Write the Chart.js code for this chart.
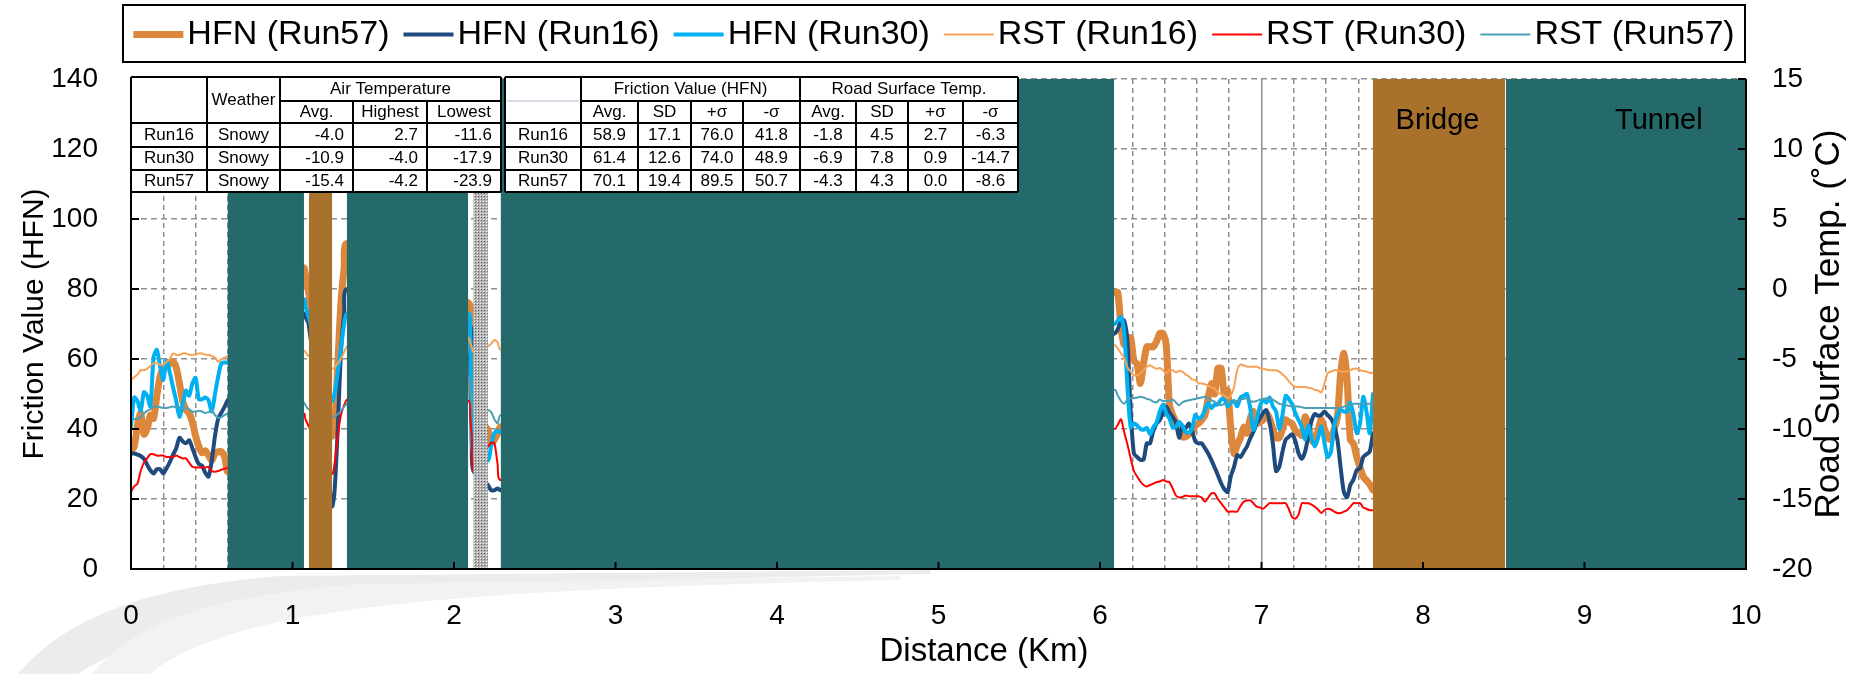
<!DOCTYPE html>
<html>
<head>
<meta charset="utf-8">
<script src="https://cdn.jsdelivr.net/npm/chart.js@4"></script>
<style>
  html, body { margin: 0; padding: 0; background: #fff; }
</style>
</head>
<body>
<canvas id="frictionChart" width="1861" height="674"></canvas>
<script>
// distance along the route (km), only where the road is open
const distKm = [
  0, 0.02, 0.04, 0.06, 0.08, 0.1, 0.12, 0.14, 0.16, 0.18, 0.2, 0.22, 0.24, 0.26, 0.28, 0.3,
  0.32, 0.34, 0.36, 0.38, 0.4, 0.42, 0.44, 0.46, 0.48, 0.5, 0.52, 0.54, 0.56, 0.58, 0.6,
  1.07, 1.08, 1.1, 1.245, 1.26, 1.28, 1.3, 1.32, 1.34,
  2.09, 2.1, 2.11, 2.12, 2.21, 2.23, 2.25, 2.27, 2.29,
  6.09, 6.11, 6.13, 6.15, 6.17, 6.19, 6.21, 6.23, 6.25, 6.27,
  6.29, 6.31, 6.33, 6.35, 6.37, 6.39, 6.41, 6.43, 6.45, 6.47,
  6.49, 6.51, 6.53, 6.55, 6.57, 6.59, 6.61, 6.63, 6.65, 6.67,
  6.69, 6.71, 6.73, 6.75, 6.77, 6.79, 6.81, 6.83, 6.85, 6.87,
  6.89, 6.91, 6.93, 6.95, 6.97, 6.99, 7.01, 7.03, 7.05, 7.07,
  7.09, 7.11, 7.13, 7.15, 7.17, 7.19, 7.21, 7.23, 7.25, 7.27,
  7.29, 7.31, 7.33, 7.35, 7.37, 7.39, 7.41, 7.43, 7.45, 7.47,
  7.49, 7.51, 7.53, 7.55, 7.57, 7.59, 7.61, 7.63, 7.65, 7.67, 7.69
];

// friction (HFN)
const hfnRun57 = [
  34, 35, 41, 44.5, 38.5, 40, 44, 43, 49.5, 55, 57.3, 57.8, 58.7, 59.3, 57.5, 53,
  48, 45.5, 44.5, 42, 38, 35, 33.2, 33.8, 32.5, 31, 33, 33.5, 33.5, 32, 28,
  86, 84, 79, 38, 40, 58, 76, 86, 93,
  76, 68, 55, 45, 39.7, 36, 37, 38.8, 40.7,
  79, 79, 69, 64, 66, 66, 59.5, 58.5, 53, 58.8,
  63.5, 63.5, 63.5, 65, 67.3, 67.3, 64, 47, 44, 42,
  40, 37.8, 37.8, 38.5, 39.2, 41, 41.6, 42.6, 44, 49,
  53, 50, 57.3, 57.3, 50, 51, 40, 33, 35.5, 37.5,
  40.5, 38.8, 43, 45, 41.6, 42, 42.6, 44.5, 43, 40,
  37.5, 37.5, 40, 42.6, 42, 41.5, 39.5, 38.8, 38.2, 43.5,
  41, 37, 36, 39.5, 42.6, 40, 37.8, 37, 40, 43.5,
  55.9, 61.6, 54, 36.9, 35.8, 32, 29, 26.4, 25.3, 24.2, 22.6
];
const hfnRun16 = [
  33, 33, 32.7, 32.3, 31.5, 29.8, 28.2, 27.3, 28.5, 28.5, 27.3, 28.8, 30.5, 32.6, 34.5, 37.5,
  36.5, 35.9, 36.8, 34.5, 32, 30, 29.5, 27.5, 26.4, 31, 38, 43, 44.7, 46.4, 48.3,
  73, 72, 70, 18, 22, 40, 62, 73, 80,
  70, 60, 35, 28, 24, 22.5, 22.5, 23, 22.5,
  67.3, 68.5, 70.8, 71, 65, 45, 33, 32, 31.2, 31.3,
  35.9, 35.9, 39.5, 41.5, 42.6, 44.5, 46.4, 44.7, 43.5, 41.8,
  37.5, 40.7, 40.2, 41.6, 39.5, 36.5, 35.9, 35.9, 34.5, 33,
  31.1, 29, 26.8, 24.5, 22.8, 22, 26.5, 29.2, 32.5, 32,
  33.5, 35, 37.3, 39.2, 41.6, 43, 44.6, 45.4, 42, 36,
  28, 29.2, 33.5, 37, 37.8, 38.5, 36.5, 33, 31.5, 33.5,
  38, 42.3, 44.3, 43.8, 44, 45, 44, 43, 41, 37,
  29, 22, 20.5, 24, 25.6, 28.3, 28.8, 32, 32.8, 33.5, 38.8
];
const hfnRun30 = [
  40.7, 49, 48, 45.2, 50.5, 49.5, 46.5, 60.5, 62.6, 58, 54, 59.5, 56.2, 52, 48, 43.5,
  47, 51, 49.5, 53, 54.6, 48.5, 48.5, 49, 48.2, 45, 50, 55, 58.8, 59, 59,
  77, 75, 72, 48, 50, 56, 63, 70, 73,
  73, 70, 40, 33, 31, 35.5, 38.8, 39.5, 39,
  70, 71, 72, 67.5, 52, 40.5, 41.6, 41, 40, 39.8,
  40.3, 38.5, 40.5, 41.8, 45, 47, 44.5, 43, 40.5, 40.6,
  42, 41, 39.2, 39, 40, 44, 43, 43.5, 45.5, 47.5,
  46, 47, 47, 48.5, 48.5, 46.5, 47.5, 48, 46.5, 49,
  49.5, 50, 46, 39.8, 42.5, 46.5, 48.3, 47.5, 49, 46.5,
  45, 40, 44, 49.5, 48.5, 47, 44.5, 42.5, 40.5, 37,
  41, 37.5, 35, 37.5, 40.7, 36, 32, 33.5, 41, 44,
  45.4, 45, 45, 47.5, 44, 38.8, 41.5, 49.2, 45, 38.8, 50
];

// road surface temperature (deg C)
const rstRun16 = [
  -6.5, -6.3, -6.1, -5.8, -5.8, -5.7, -5.5, -5.3, -5.3, -5.4, -5.4, -5.2, -5.0, -4.6, -4.7, -4.7,
  -4.6, -4.6, -4.7, -4.7, -4.7, -4.6, -4.6, -4.7, -4.7, -4.8, -4.9, -5.2, -5.0, -4.9, -4.8,
  -4.4, -4.5, -4.8, -5.7, -5.6, -5.3, -5.0, -4.5, -4.1,
  -3.5, -3.8, -4.2, -4.5, -4.1, -3.9, -3.65, -3.8, -4.35,
  -4.0, -4.25, -4.6, -4.9, -5.6, -5.9, -6.15, -6.15, -6.05, -5.8,
  -5.55, -5.45, -5.6, -5.7, -5.65, -5.8, -6.0, -5.8, -5.8, -5.95,
  -5.85, -5.9, -6.1, -6.25, -6.45, -6.5, -6.75, -6.75, -6.8, -6.9,
  -7.05, -7.1, -7.4, -7.5, -7.6, -7.8, -7.6, -7.0, -5.75, -5.4,
  -5.45, -5.55, -5.55, -5.55, -5.55, -5.65, -5.7, -5.75, -5.8, -5.8,
  -5.8, -5.9, -6.1, -6.3, -6.6, -6.85, -7.0, -7.0, -7.0, -7.0,
  -7.05, -7.1, -7.2, -7.25, -7.4, -6.75, -6.0, -5.9, -5.8, -5.8,
  -5.9, -5.9, -5.9, -5.8, -5.7, -5.7, -5.8, -5.85, -5.9, -6.0, -6.0
];
const rstRun30 = [
  -14.5, -14.1, -13.9, -13.0, -12.4, -12.1, -11.8, -11.8, -11.9, -11.9, -11.9, -12.0, -12.0, -12.0, -11.9, -12.0,
  -12.1, -12.1, -12.4, -12.7, -12.75, -12.75, -12.75, -12.75, -12.7, -13.0, -13.05, -13.0, -12.9, -12.85, -12.75,
  -8.9, -9.3, -9.8, -13.2, -12.5, -10.5, -9.0, -8.3, -7.9,
  -8.0, -9.0, -10.5, -13.0, -11.25, -11.0, -11.0, -12.5, -13.65,
  -10.0, -9.7, -9.3, -10.25, -11.1, -12.1, -13.0, -13.4, -13.75, -14.0,
  -14.1, -14.0, -13.9, -13.8, -13.75, -13.65, -13.75, -13.8, -14.25, -14.75,
  -14.9, -14.85, -14.75, -14.8, -14.8, -14.8, -14.8, -14.9, -15.2, -14.9,
  -14.6, -14.6, -15.0, -15.3, -15.6, -15.9, -15.9, -15.9, -15.9, -15.5,
  -15.2, -15.1, -15.1, -15.3, -15.55, -15.6, -15.7, -15.5, -15.3, -15.3,
  -15.3, -15.3, -15.3, -15.3, -15.75, -16.3, -16.4, -16.1, -15.3, -15.3,
  -15.3, -15.4, -15.55, -15.75, -16.0, -15.8, -15.7, -15.75, -15.9, -16.0,
  -16.0, -15.9, -15.8, -15.55, -15.3, -15.3, -15.3, -15.6, -15.7, -15.8, -15.8
];
const rstRun57 = [
  -9.35, -9.3, -9.25, -9.15, -8.9, -8.7, -8.6, -8.4, -8.4, -8.45, -8.5, -8.5, -8.45, -8.4, -8.45, -8.45,
  -8.5, -8.5, -8.6, -8.75, -8.75, -8.7, -8.75, -8.85, -8.8, -8.65, -9.0, -9.2, -9.15, -9.0, -8.9,
  -8.1, -8.3, -8.6, -9.1, -9.1, -8.95, -8.7, -8.4, -8.2,
  -6.3, -7.2, -8.2, -8.8, -8.65, -8.8, -9.3, -9.6, -9.0,
  -7.2, -7.6, -8.0, -8.2, -7.9, -7.8, -7.8, -7.75, -7.7, -7.75,
  -7.85, -7.9, -8.05, -8.1, -7.9, -8.0, -8.0, -8.0, -7.9, -8.1,
  -8.3, -8.1, -8.0, -7.95, -7.9, -7.85, -7.8, -7.75, -7.7, -7.8,
  -7.95, -8.05, -8.2, -8.3, -8.2, -8.15, -8.1, -8.05, -8.0, -7.9,
  -7.85, -7.8, -8.0, -8.05, -8.0, -7.9, -7.85, -7.8, -7.85, -7.9,
  -8.05, -8.2, -8.25, -8.3, -8.35, -8.4, -8.4, -8.4, -8.45, -8.5,
  -8.5, -8.5, -8.5, -8.5, -8.5, -8.5, -8.5, -8.5, -8.5, -8.5,
  -8.5, -8.4, -8.35, -8.3, -8.2, -8.2, -8.2, -8.2, -8.2, -8.2, -8.25
];

// road sections (km)
const tunnelKm = [[0.599, 1.071], [1.337, 2.087], [2.29, 6.087], [8.514, 10]];
const bridgeKm = [[1.102, 1.245], [7.69, 8.508]];
const unknownKm = [[2.12, 2.209]];
const sectionLabels = [['Bridge', 8.09, 128], ['Tunnel', 9.46, 128]];

// summary table
const runNames = ['Run16', 'Run30', 'Run57'];
const weather = ['Snowy', 'Snowy', 'Snowy'];
const airAvg = [-4.0, -10.9, -15.4];
const airHigh = [2.7, -4.0, -4.2];
const airLow = [-11.6, -17.9, -23.9];
const hfnAvg = [58.9, 61.4, 70.1];
const hfnSD = [17.1, 12.6, 19.4];
const hfnPlus = [76.0, 74.0, 89.5];
const hfnMinus = [41.8, 48.9, 50.7];
const rstAvg = [-1.8, -6.9, -4.3];
const rstSD = [4.5, 7.8, 4.3];
const rstPlus = [2.7, 0.9, 0.0];
const rstMinus = [-6.3, -14.7, -8.6];

const FONT = "'Liberation Sans', Arial, sans-serif";
const TEAL = '#256a6b';
const BROWN = '#a8722d';

const toPts = vals => distKm.map((d, i) => ({ x: d, y: vals[i] }));
const isWholeKm = v => Math.abs(v - Math.round(v)) < 1e-6;

function dotPattern(ctx) {
  const c = document.createElement('canvas');
  c.width = 3; c.height = 3;
  const p = c.getContext('2d');
  p.fillStyle = '#b4b4b4';
  p.fillRect(0, 0, 3, 3);
  p.fillStyle = '#5e5e5e';
  p.fillRect(1, 1, 1, 1);
  p.fillStyle = '#f4f4f4';
  p.fillRect(0, 0, 1, 1);
  return ctx.createPattern(c, 'repeat');
}

// white page + light swoosh in the corner
const backdrop = {
  id: 'backdrop',
  beforeDraw(chart) {
    const ctx = chart.ctx;
    ctx.save();
    ctx.fillStyle = '#fff';
    ctx.fillRect(0, 0, chart.width, chart.height);
    ctx.fillStyle = '#ececec';
    ctx.beginPath();
    ctx.moveTo(18, 674);
    ctx.bezierCurveTo(60, 625, 130, 588, 280, 576);
    ctx.lineTo(930, 570);
    ctx.lineTo(930, 574);
    ctx.bezierCurveTo(480, 582, 190, 600, 78, 674);
    ctx.closePath();
    ctx.fill();
    ctx.fillStyle = '#f2f2f2';
    ctx.beginPath();
    ctx.moveTo(92, 674);
    ctx.bezierCurveTo(130, 628, 200, 596, 360, 584);
    ctx.lineTo(900, 576);
    ctx.lineTo(900, 580);
    ctx.bezierCurveTo(420, 590, 230, 610, 150, 674);
    ctx.closePath();
    ctx.fill();
    ctx.restore();
  }
};

function drawTable(ctx, cols, rows, cells, hLines, vLines) {
  ctx.fillStyle = '#fff';
  ctx.fillRect(cols[0], rows[0], cols[cols.length - 1] - cols[0], rows[rows.length - 1] - rows[0]);
  ctx.strokeStyle = '#000';
  ctx.lineWidth = 2;
  ctx.beginPath();
  hLines.forEach(([y, x0, x1]) => { ctx.moveTo(x0, y); ctx.lineTo(x1, y); });
  vLines.forEach(([x, y0, y1]) => { ctx.moveTo(x, y0); ctx.lineTo(x, y1); });
  ctx.stroke();
  ctx.fillStyle = '#000';
  ctx.font = '17px ' + FONT;
  ctx.textBaseline = 'middle';
  cells.forEach(([text, x, y, align]) => {
    ctx.textAlign = align || 'center';
    ctx.fillText(text, x, y);
  });
}

const overlay = {
  id: 'roadOverlay',
  afterDatasetsDraw(chart) {
    const { ctx, chartArea: a, scales: { x } } = chart;
    ctx.save();
    const fillSpan = (span, style) => {
      const x0 = x.getPixelForValue(span[0]);
      const x1 = x.getPixelForValue(span[1]);
      ctx.fillStyle = style;
      ctx.fillRect(x0, a.top, x1 - x0, a.bottom - a.top);
    };
    tunnelKm.forEach(s => fillSpan(s, TEAL));
    bridgeKm.forEach(s => fillSpan(s, BROWN));
    const pat = dotPattern(ctx);
    unknownKm.forEach(s => fillSpan(s, pat));
    ctx.restore();
  },
  afterDraw(chart) {
    const { ctx, chartArea: a, scales: { x, y, y1 } } = chart;
    ctx.save();

    // frame and inside tick marks
    ctx.strokeStyle = '#000';
    ctx.lineWidth = 2;
    ctx.beginPath();
    ctx.moveTo(a.left, a.top); ctx.lineTo(a.left, a.bottom); ctx.lineTo(a.right, a.bottom); ctx.lineTo(a.right, a.top);
    y.ticks.forEach(t => { const py = y.getPixelForValue(t.value); ctx.moveTo(a.left, py); ctx.lineTo(a.left + 8, py); });
    y1.ticks.forEach(t => { const py = y1.getPixelForValue(t.value); ctx.moveTo(a.right, py); ctx.lineTo(a.right - 8, py); });
    x.ticks.filter(t => isWholeKm(t.value)).forEach(t => {
      const px = x.getPixelForValue(t.value); ctx.moveTo(px, a.bottom); ctx.lineTo(px, a.bottom - 7);
    });
    ctx.stroke();

    // axis titles that Chart.js would place differently
    ctx.fillStyle = '#000';
    ctx.textAlign = 'center';
    ctx.textBaseline = 'middle';
    ctx.font = '33px ' + FONT;
    ctx.fillText('Distance (Km)', 984, 652);
    ctx.save();
    ctx.translate(1829, (a.top + a.bottom) / 2);
    ctx.rotate(-Math.PI / 2);
    ctx.font = '35px ' + FONT;
    ctx.fillText('Road Surface Temp. (˚C)', 0, 0);
    ctx.restore();

    // section names
    ctx.font = '29px ' + FONT;
    sectionLabels.forEach(([t, km, v]) => ctx.fillText(t, x.getPixelForValue(km), y.getPixelForValue(v)));

    // left table: weather and air temperature
    const rowsY = [77, 101, 123, 147, 170, 192];
    const mid = i => (rowsY[i] + rowsY[i + 1]) / 2;
    const lc = [131, 207, 280, 353, 427, 501];
    const lCells = [
      ['Weather', (lc[1] + lc[2]) / 2, (rowsY[0] + rowsY[2]) / 2],
      ['Air Temperature', (lc[2] + lc[5]) / 2, mid(0)],
      ['Avg.', (lc[2] + lc[3]) / 2, mid(1)],
      ['Highest', (lc[3] + lc[4]) / 2, mid(1)],
      ['Lowest', (lc[4] + lc[5]) / 2, mid(1)]
    ];
    runNames.forEach((r, i) => {
      const cy = mid(i + 2);
      lCells.push([r, (lc[0] + lc[1]) / 2, cy]);
      lCells.push([weather[i], (lc[1] + lc[2]) / 2, cy]);
      lCells.push([airAvg[i].toFixed(1), lc[3] - 9, cy, 'right']);
      lCells.push([airHigh[i].toFixed(1), lc[4] - 9, cy, 'right']);
      lCells.push([airLow[i].toFixed(1), lc[5] - 9, cy, 'right']);
    });
    const lH = [[rowsY[0], lc[0], lc[5]], [rowsY[1], lc[2], lc[5]], [rowsY[2], lc[0], lc[5]],
      [rowsY[3], lc[0], lc[5]], [rowsY[4], lc[0], lc[5]], [rowsY[5], lc[0], lc[5]]];
    const lV = [[lc[0], rowsY[0], rowsY[5]], [lc[1], rowsY[0], rowsY[5]], [lc[2], rowsY[0], rowsY[5]],
      [lc[3], rowsY[1], rowsY[5]], [lc[4], rowsY[1], rowsY[5]], [lc[5], rowsY[0], rowsY[5]]];
    drawTable(ctx, lc, rowsY, lCells, lH, lV);

    // right table: friction and road surface temperature statistics
    const rc = [505, 581, 638, 691, 743, 800, 856, 908, 963, 1018];
    const heads = ['Avg.', 'SD', '+σ', '-σ', 'Avg.', 'SD', '+σ', '-σ'];
    const rCells = [
      ['Friction Value (HFN)', (rc[1] + rc[5]) / 2, mid(0)],
      ['Road Surface Temp.', (rc[5] + rc[9]) / 2, mid(0)]
    ];
    heads.forEach((h, j) => rCells.push([h, (rc[j + 1] + rc[j + 2]) / 2, mid(1)]));
    runNames.forEach((r, i) => {
      const cy = mid(i + 2);
      rCells.push([r, (rc[0] + rc[1]) / 2, cy]);
      [hfnAvg, hfnSD, hfnPlus, hfnMinus, rstAvg, rstSD, rstPlus, rstMinus].forEach((arr, j) => {
        rCells.push([arr[i].toFixed(1), (rc[j + 1] + rc[j + 2]) / 2, cy]);
      });
    });
    const rH = [[rowsY[0], rc[0], rc[9]], [rowsY[1], rc[1], rc[9]], [rowsY[2], rc[0], rc[9]],
      [rowsY[3], rc[0], rc[9]], [rowsY[4], rc[0], rc[9]], [rowsY[5], rc[0], rc[9]]];
    const rV = rc.map((cx, j) => [cx, (j === 0 || j === 1 || j === 5 || j === 9) ? rowsY[0] : rowsY[1], rowsY[5]]);
    drawTable(ctx, rc, rowsY, rCells, rH, rV);
    ctx.strokeStyle = '#c8d2e0';
    ctx.lineWidth = 1.5;
    ctx.beginPath();
    ctx.moveTo(rc[0] + 2, rowsY[1]); ctx.lineTo(rc[1] - 2, rowsY[1]);
    ctx.stroke();

    // legend in a box
    const box = { left: 123, right: 1745, top: 5, bottom: 62 };
    ctx.font = '34px ' + FONT;
    const items = chart.data.datasets.map(ds => ({ ds, w: ctx.measureText(ds.label).width }));
    const swatch = 50, gapIn = 4, gapOut = 14;
    const total = items.reduce((s, it) => s + swatch + gapIn + it.w, 0) + gapOut * (items.length - 1);
    let cx = (box.left + box.right) / 2 - total / 2;
    const cy = (box.top + box.bottom) / 2 + 1;
    ctx.strokeStyle = '#000';
    ctx.lineWidth = 2;
    ctx.strokeRect(box.left, box.top, box.right - box.left, box.bottom - box.top);
    ctx.textAlign = 'left';
    ctx.textBaseline = 'middle';
    items.forEach(({ ds, w }) => {
      ctx.strokeStyle = ds.borderColor;
      ctx.lineWidth = ds.borderWidth;
      ctx.beginPath();
      ctx.moveTo(cx, cy); ctx.lineTo(cx + swatch, cy);
      ctx.stroke();
      ctx.fillStyle = '#000';
      ctx.fillText(ds.label, cx + swatch + gapIn, cy);
      cx += swatch + gapIn + w + gapOut;
    });
    ctx.restore();
  }
};

const tickFont = { family: FONT, size: 28 };

new Chart(document.getElementById('frictionChart'), {
  type: 'line',
  data: {
    datasets: [
      { label: 'HFN (Run57)', data: toPts(hfnRun57), borderColor: '#dd873c', borderWidth: 7, yAxisID: 'y', order: 6 },
      { label: 'HFN (Run16)', data: toPts(hfnRun16), borderColor: '#1f4a7e', borderWidth: 4, yAxisID: 'y', order: 5 },
      { label: 'HFN (Run30)', data: toPts(hfnRun30), borderColor: '#00b0f0', borderWidth: 4, yAxisID: 'y', order: 4 },
      { label: 'RST (Run16)', data: toPts(rstRun16), borderColor: '#f8a258', borderWidth: 2, yAxisID: 'y1', order: 3 },
      { label: 'RST (Run30)', data: toPts(rstRun30), borderColor: '#ff0000', borderWidth: 2, yAxisID: 'y1', order: 2 },
      { label: 'RST (Run57)', data: toPts(rstRun57), borderColor: '#4aa0b8', borderWidth: 2, yAxisID: 'y1', order: 1 }
    ]
  },
  options: {
    responsive: false,
    animation: false,
    layout: { padding: { top: 79, left: 0, right: 0, bottom: 0 } },
    elements: {
      point: { radius: 0 },
      line: { tension: 0.25, borderJoinStyle: 'round', borderCapStyle: 'round' }
    },
    plugins: { legend: { display: false }, tooltip: { enabled: false } },
    scales: {
      x: {
        type: 'linear',
        min: 0,
        max: 10,
        afterFit: s => { s.height = 105; },
        ticks: {
          stepSize: 0.2,
          autoSkip: false,
          maxRotation: 0,
          padding: 30,
          color: '#000',
          font: tickFont,
          callback: v => isWholeKm(v) ? String(Math.round(v)) : ''
        },
        grid: { color: '#909090', lineWidth: 1.5, drawTicks: false },
        border: { display: false, dash: c => (c.tick && isWholeKm(c.tick.value)) ? [] : [5, 4] }
      },
      y: {
        position: 'left',
        min: 0,
        max: 140,
        afterFit: s => { s.width = 131; },
        ticks: { stepSize: 20, padding: 33, color: '#000', font: tickFont },
        grid: { color: '#909090', lineWidth: 1.5, drawTicks: false },
        border: { display: false, dash: [6, 4] },
        title: { display: true, text: 'Friction Value (HFN)', color: '#000', font: { family: FONT, size: 30 }, padding: { top: 17, bottom: 0 } }
      },
      y1: {
        position: 'right',
        min: -20,
        max: 15,
        afterFit: s => { s.width = 115; },
        ticks: { stepSize: 5, padding: 26, color: '#000', font: tickFont },
        grid: { display: false, drawTicks: false },
        border: { display: false }
      }
    }
  },
  plugins: [backdrop, overlay]
});
</script>
</body>
</html>
